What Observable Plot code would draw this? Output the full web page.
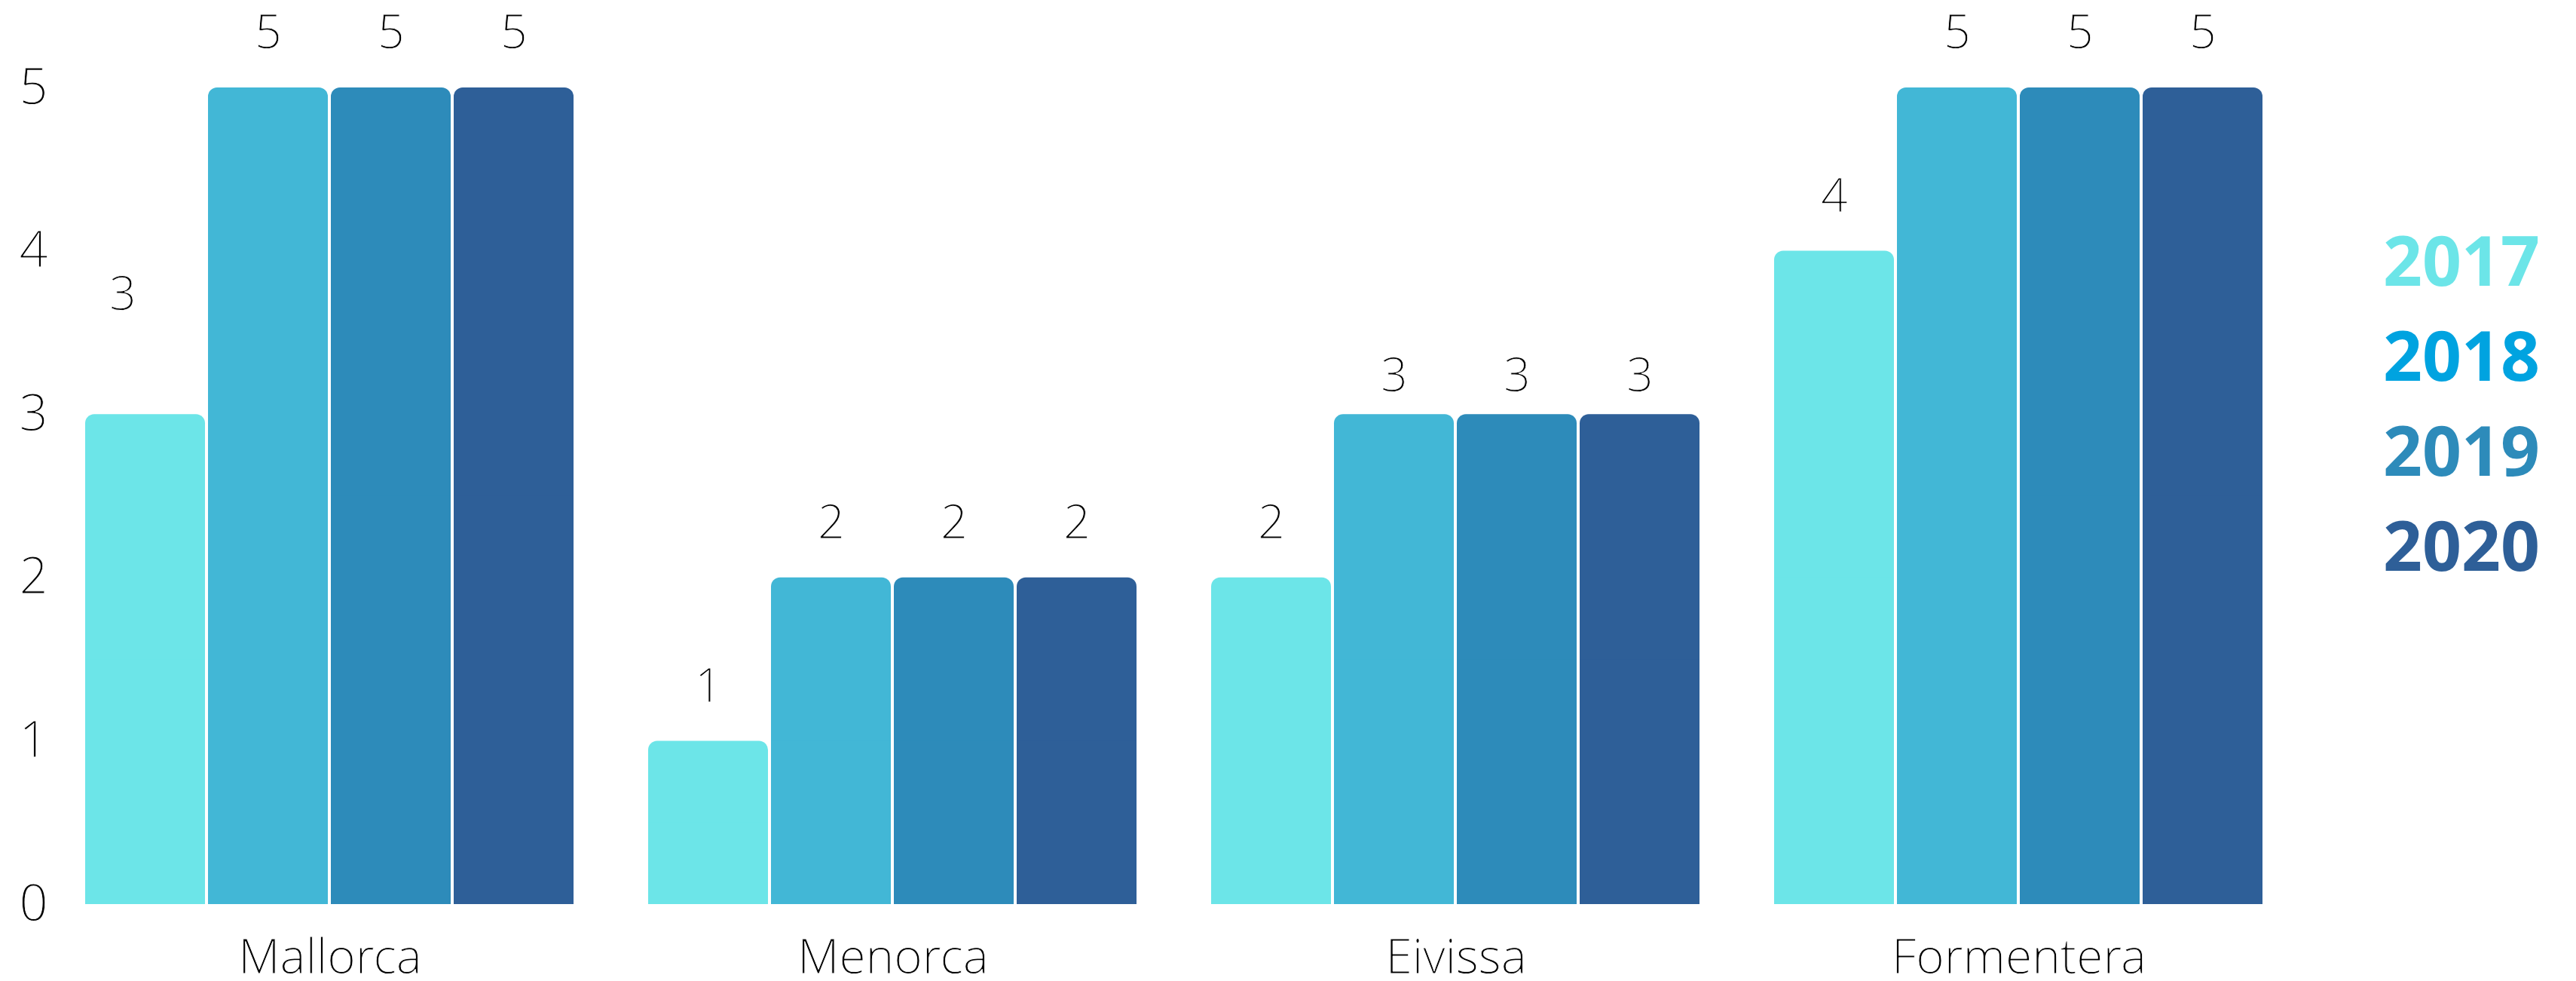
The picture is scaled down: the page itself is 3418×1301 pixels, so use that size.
<!DOCTYPE html>
<html>
<head>
<meta charset="utf-8">
<script src="https://cdn.jsdelivr.net/npm/d3@7"></script>
<script src="https://cdn.jsdelivr.net/npm/@observablehq/plot@0.6"></script>
<style>
  html, body { margin: 0; padding: 0; background: #fff; }
  #wrap { position: relative; width: 3418px; height: 1301px; overflow: hidden; }
  #legend { position: absolute; left: 3162px; top: 281px; font-family: "Open Sans", sans-serif; font-weight: 700; font-size: 91px; line-height: 126px; }
  /* thin the regular weight slightly towards the light cut used in the reference */
  #wrap svg text { stroke: #fff; stroke-width: 0.8px; paint-order: normal; stroke-linejoin: round; }
</style>
</head>
<body>
<div id="wrap"><div id="legend"></div></div>
<script>
const islands = ["Mallorca", "Menorca", "Eivissa", "Formentera"];
const years = ["2017", "2018", "2019", "2020"];
const values2017 = [3, 1, 2, 4];
const values2018 = [5, 2, 3, 5];
const values2019 = [5, 2, 3, 5];
const values2020 = [5, 2, 3, 5];
const yTicks = [0, 1, 2, 3, 4, 5];
const barColors = ["#6CE5E8", "#42B7D6", "#2D8BBA", "#2E5F98"];
const legendColors = ["#6CE5E8", "#00A3E0", "#2D8BBA", "#2E5F98"];

const series = [values2017, values2018, values2019, values2020];
const data = islands.flatMap((island, i) =>
  years.map((year, j) => ({island, year, value: series[j][i]}))
);

// label placement quirks seen in the reference (style only)
const isHigh = d => d.island === "Mallorca" && d.year === "2017";
const isLow = d => d.island === "Eivissa" && d.year !== "2017";
const isNormal = d => !isHigh(d) && !isLow(d);

const lightFont = "'Open Sans Light', 'Open Sans', sans-serif";

const chart = Plot.plot({
  width: 3418,
  height: 1301,
  marginLeft: 110,
  marginRight: 412,
  marginTop: 116,
  marginBottom: 102,
  style: {fontFamily: lightFont, fontWeight: 300, color: "#000", background: "transparent"},
  fx: {domain: islands, paddingInner: 0.1283, paddingOuter: 0, label: null},
  x: {domain: years, paddingInner: 0.0244, paddingOuter: 0, axis: null},
  y: {domain: [0, 5], label: null},
  color: {domain: years, range: barColors},
  marks: [
    Plot.axisY({ticks: yTicks, tickSize: 0, tickPadding: 49, fontSize: 66, label: null, tickFormat: d => String(d)}),
    Plot.axisFx({anchor: "bottom", tickSize: 0, tickPadding: 46, fontSize: 64, label: null}),
    Plot.barY(data, {fx: "island", x: "year", y: "value", fill: "year", rx: 12}),
    Plot.barY(data, {fx: "island", x: "year", y1: 0, y2: d => d.value / 2, fill: "year"}),
    Plot.text(data.filter(isNormal), {fx: "island", x: "year", y: "value", text: d => String(d.value), dy: -72, fontSize: 62, fill: "#000"}),
    Plot.text(data.filter(isHigh), {fx: "island", x: "year", y: "value", text: d => String(d.value), dy: -159, dx: -30, fontSize: 62, fill: "#000"}),
    Plot.text(data.filter(isLow), {fx: "island", x: "year", y: "value", text: d => String(d.value), dy: -51, fontSize: 62, fill: "#000"})
  ]
});
document.getElementById("wrap").prepend(chart);

const legend = document.getElementById("legend");
years.forEach((y, i) => {
  const div = document.createElement("div");
  div.textContent = y;
  div.style.color = legendColors[i];
  legend.appendChild(div);
});
</script>
</body>
</html>
